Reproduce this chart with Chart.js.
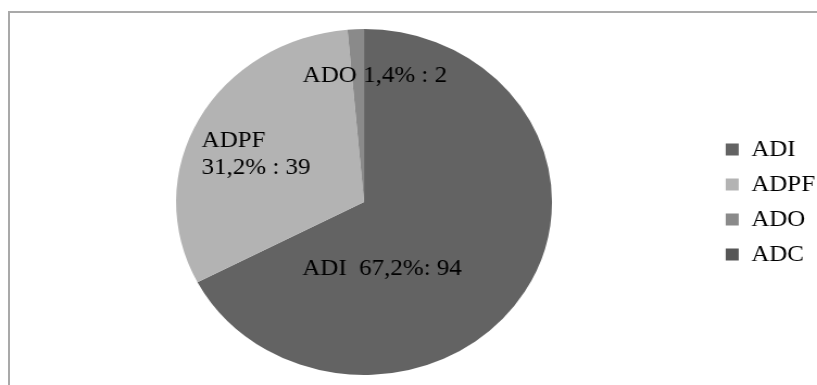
<!DOCTYPE html>
<html>
<head>
<meta charset="utf-8">
<script src="https://cdn.jsdelivr.net/npm/chart.js@4/dist/chart.umd.min.js"></script>
<style>
  html, body { margin: 0; padding: 0; background: #fff; }
  body { width: 817px; height: 385px; overflow: hidden; position: relative; }
  #frame {
    position: absolute; left: 8px; top: 11px; right: -20px; bottom: -20px;
    border-left: 2px solid #a9a9a9; border-top: 2px solid #a9a9a9;
  }
  /* the chart is drawn slightly narrower and widened horizontally */
  #wrap {
    position: absolute; left: 0; top: 0; width: 770px; height: 385px;
    transform: scaleX(1.0865); transform-origin: 0 0;
  }
</style>
</head>
<body>
<div id="frame"></div>
<div id="wrap"><canvas id="pie"></canvas></div>
<script>
// categories and values
const categories = ['ADI', 'ADPF', 'ADO', 'ADC'];
const shares = [67.2, 31.2, 1.4, 0];      // percent
const counts = [94, 39, 2, 0];            // number of cases
const colors = ['#636363', '#b3b3b3', '#8a8a8a', '#565656'];

// where each slice label sits: polar angle (deg, canvas convention) and radius fraction
const labelPlacement = [
  { angle: 76.1, rf: 0.399 },
  { angle: 205.6, rf: 0.637 },
  { angle: -85.5, rf: 0.733 },
  null
];

const fmtPct = v => v.toFixed(1).replace('.', ',') + '%';

function labelLines(i) {
  const name = categories[i], p = fmtPct(shares[i]), n = counts[i];
  if (i === 0) return [name + '  ' + p + ': ' + n];
  if (i === 1) return [name, p + ' : ' + n];
  return [name + ' ' + p + ' : ' + n];
}

const labelFont = '23px "Liberation Serif", "Times New Roman", serif';

const sliceLabels = {
  id: 'sliceLabels',
  afterDatasetsDraw(chart) {
    const ctx = chart.ctx;
    const meta = chart.getDatasetMeta(0);
    ctx.save();
    ctx.font = labelFont;
    ctx.fillStyle = '#000';
    ctx.textBaseline = 'middle';
    ctx.textAlign = 'left';
    meta.data.forEach((arc, i) => {
      const place = labelPlacement[i];
      if (!place || !shares[i]) return;
      const { x, y, outerRadius } = arc.getProps(['x', 'y', 'outerRadius'], true);
      const a = place.angle * Math.PI / 180;
      const cx = x + Math.cos(a) * outerRadius * place.rf;
      const cy = y + Math.sin(a) * outerRadius * place.rf;
      const lines = labelLines(i);
      const lh = 26.5;
      const w = Math.max(...lines.map(t => ctx.measureText(t).width));
      const top = cy - (lines.length - 1) * lh / 2;
      lines.forEach((t, k) => ctx.fillText(t, cx - w / 2, top + k * lh));
    });
    ctx.restore();
  }
};

new Chart(document.getElementById('pie'), {
  type: 'pie',
  data: {
    labels: categories,
    datasets: [{
      data: shares,
      backgroundColor: colors,
      borderWidth: 0,
      hoverOffset: 0
    }]
  },
  options: {
    responsive: true,
    maintainAspectRatio: false,
    animation: false,
    layout: { padding: { left: 14.2, right: 9.8, top: 29, bottom: 10 } },
    plugins: {
      legend: {
        position: 'right',
        align: 'center',
        labels: {
          boxWidth: 12,
          boxHeight: 12,
          padding: 12,
          color: '#000',
          font: { family: '"Liberation Serif", "Times New Roman", serif', size: 23 }
        }
      },
      tooltip: { enabled: false }
    }
  },
  plugins: [sliceLabels]
});
</script>
</body>
</html>
